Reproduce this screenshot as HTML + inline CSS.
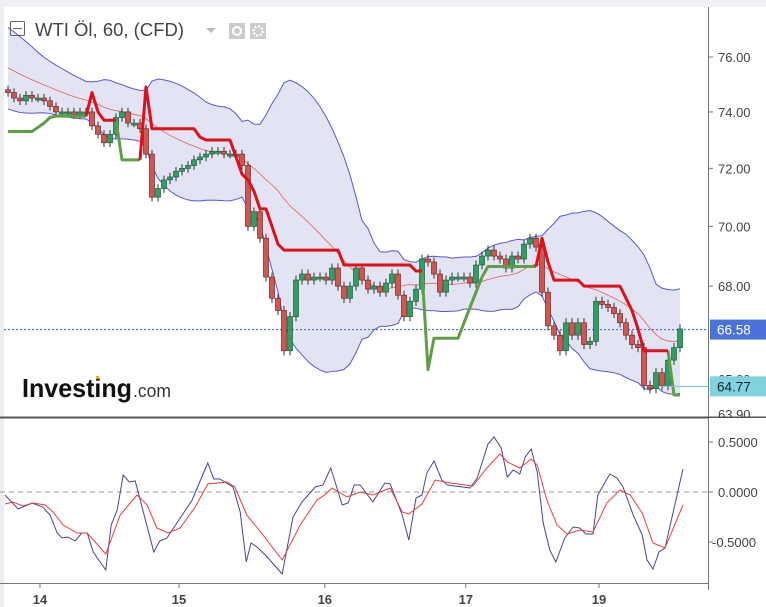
<!DOCTYPE html>
<html><head><meta charset="utf-8"><style>
body{margin:0;background:#fff;}
svg{display:block;font-family:"Liberation Sans",sans-serif;}
</style></head><body>
<svg id="c" width="766" height="607" viewBox="0 0 766 607" xmlns="http://www.w3.org/2000/svg">
<rect x="0" y="0" width="766" height="607" fill="#fff"/>
<g id="main"></g>
<g id="osc"></g>
</svg>
<script>
const closes=[74.7,74.5,74.4,74.6,74.5,74.5,74.4,74.2,74.0,74.0,74.0,73.9,74.0,74.0,73.5,73.2,72.9,73.2,73.8,74.0,73.6,73.6,73.4,72.5,71.0,71.3,71.6,71.7,71.9,72.0,72.1,72.3,72.4,72.5,72.6,72.6,72.5,72.5,72.5,72.1,70.0,70.5,69.6,68.3,67.6,67.2,65.9,67.0,68.2,68.4,68.2,68.3,68.3,68.2,68.6,68.0,67.6,68.0,68.6,68.2,67.9,68.0,67.8,68.1,68.4,67.7,67.0,67.5,67.9,68.9,68.8,68.4,67.8,68.2,68.3,68.3,68.3,68.1,68.7,69.0,69.2,69.0,68.9,68.6,69.0,68.9,69.4,69.6,69.3,67.8,66.7,66.4,65.9,66.8,66.4,66.8,66.1,66.2,67.5,67.4,67.3,67.1,66.8,66.4,66.1,66.0,64.8,64.7,65.2,64.8,65.6,66.0,66.6];
const history=[77.0,76.9,76.8,76.6,76.5,76.4,76.2,76.0,75.9,75.7,75.6,75.5,75.3,75.2,75.0,74.9,74.8,74.7,74.8,74.6];
const redSegs=[[13,[73.85,74.7,74.0,73.7,73.7,73.7]],[22,[72.3,74.9,73.4,73.4,73.4,73.4,73.4,73.4,73.4,73.4,73.1,73.0,73.0,73.0,73.0,73.0,72.4,71.8,71.6,71.2,70.6,70.6,70.0,69.4,69.2,69.2,69.2,69.2,69.2,69.2,69.2,69.2,69.2,69.2,68.7,68.7,68.7,68.7,68.7,68.7,68.7,68.7,68.7,68.7,68.7,68.7,68.5,68.5]],[88,[68.65,69.6,68.8,68.2,68.2,68.2,68.2,68.2,68.0,68.0,68.0,68.0,68.0,68.0,68.0,67.6,67.2,66.6,65.9,65.9,65.9,65.9,65.9]]];
const greenSegs=[[0,[73.3,73.3,73.3,73.3,73.3,73.45,73.6,73.8,73.85,73.85,73.85,73.85,73.85,73.85]],[18,[73.7,72.3,72.3,72.3,72.3]],[69,[68.5,65.3,66.3,66.3,66.3,66.3,66.3,66.8,67.3,67.8,68.3,68.65,68.65,68.65,68.65,68.65,68.65,68.65,68.65,68.65]],[110,[65.9,64.5,64.5]]];
const priceTicks=[76,74,72,70,68];
const lastPrice=66.58;
const stopPrice=64.77;
const oscIdx=[-0.5,1.7,4,5.8,7,8.2,9,10,11.2,12.3,13.2,14.2,16.3,17.2,18.2,19.2,20.2,21.2,24.3,25.3,26.5,28.7,30.7,32.3,33.3,34.3,35.3,37.5,38.7,39.7,40.5,41.5,43.2,45.7,47.5,49,51.2,52.5,53.8,55.7,56.7,57.7,58.7,60.8,62.8,63.7,65.7,66.8,68,69,69.8,71,72.3,73.2,77,78.2,80,81,82.2,83.2,84.2,85.3,86.2,87.2,88.2,89.2,90.3,91.3,92.8,94.2,95.3,96.3,97.5,98.3,100.3,101.5,102.5,104.2,105.7,106.5,107.5,108.5,109.5,112.5];
const oscVal=[-0.03,-0.17,-0.11,-0.15,-0.23,-0.41,-0.46,-0.45,-0.49,-0.41,-0.41,-0.60,-0.78,-0.33,-0.18,0.17,0.10,0.11,-0.60,-0.49,-0.46,-0.26,-0.08,0.15,0.29,0.13,0.13,0.05,-0.20,-0.70,-0.51,-0.55,-0.65,-0.82,-0.25,-0.10,0.05,0.07,0.24,-0.13,-0.11,0.07,0.07,-0.10,0.09,0.08,-0.23,-0.48,-0.06,-0.03,0.19,0.31,0.12,0.07,0.04,0.14,0.48,0.55,0.44,0.15,0.22,0.18,0.35,0.43,0.20,-0.31,-0.58,-0.70,-0.46,-0.35,-0.36,-0.42,-0.42,-0.03,0.18,0.14,0.05,-0.23,-0.43,-0.68,-0.77,-0.60,-0.56,0.23];
const sigIdx=[-0.5,0.8,2.5,4.2,6.2,7.5,9.2,11.5,13.2,16.3,18.7,21.5,23.2,24.8,26.7,28.7,31.2,33.3,36.5,37.8,39.8,42.5,45.7,48.7,51.5,52.8,54,56.5,58.7,60.8,63.7,65.7,66.8,69,71.2,73.7,77.5,79.8,82,83.2,85.3,87.2,88.2,89.8,91.5,93.2,95.3,97.5,99.8,102,103.7,105.7,107.5,109.5,112.5];
const sigVal=[-0.12,-0.10,-0.14,-0.11,-0.13,-0.20,-0.33,-0.41,-0.41,-0.62,-0.23,-0.03,-0.13,-0.36,-0.41,-0.36,-0.15,0.08,0.10,0.05,-0.23,-0.43,-0.68,-0.33,-0.08,-0.03,0.04,-0.05,0.00,-0.03,0.04,-0.20,-0.22,-0.12,0.12,0.09,0.06,0.24,0.38,0.30,0.24,0.33,0.27,-0.08,-0.33,-0.42,-0.38,-0.40,-0.11,0.02,-0.03,-0.21,-0.51,-0.56,-0.13];
const oscTicks=[0.5,0,-0.5];
const dayLabels=["14","15","16","17","19"];
const dayIdx=[5.33,28.5,52.8,76.3,98.5];

const NS="http://www.w3.org/2000/svg";
const xs=i=>8+6*i;
const yp=p=>57+2060*Math.log(76/p);
const yo=v=>492-100*v;
function mk(parent,tag,attrs,text){const e=document.createElementNS(NS,tag);for(const k in attrs)e.setAttribute(k,attrs[k]);if(text!==undefined)e.textContent=text;parent.appendChild(e);return e;}
const main=document.getElementById('main'),osc=document.getElementById('osc');
const clip=mk(document.getElementById('c'),'clipPath',{id:'pc'});mk(clip,'rect',{x:0,y:8,width:708,height:409});
const pg=mk(main,'g',{'clip-path':'url(#pc)'});

const all=history.concat(closes);const up=[],lo=[],mid=[];
for(let i=0;i<closes.length;i++){const w=all.slice(i+1,i+21);const m=w.reduce((a,b)=>a+b,0)/20;const sd=Math.sqrt(w.reduce((a,b)=>a+(b-m)*(b-m),0)/20);mid.push(m);up.push(m+2*sd);lo.push(m-2*sd);}
let fillD='M'+up.map((v,i)=>xs(i)+','+yp(v)).join(' L')+' L'+lo.map((v,i)=>xs(i)+','+yp(v)).reverse().join(' L')+' Z';
let f=mk(pg,'path',{d:fillD,fill:'#e3e4f3'});


const pl=(arr)=>arr.map((v,i)=>(i?'L':'M')+xs(i)+','+yp(v)).join(' ');
let bu=mk(pg,'path',{d:pl(up),fill:'none',stroke:'#5757d8','stroke-width':1});


let bl=mk(pg,'path',{d:pl(lo),fill:'none',stroke:'#5757d8','stroke-width':1});


let bm=mk(pg,'path',{d:pl(mid),fill:'none',stroke:'#e8605a','stroke-width':0.8});



let lp=mk(pg,'line',{x1:0,x2:708,y1:yp(lastPrice),y2:yp(lastPrice),stroke:'#2f5fe0','stroke-width':1,'stroke-dasharray':'2,2'});



for(let i=0;i<closes.length;i++){const o=i?closes[i-1]:closes[0]+0.1;const c=closes[i];const hi=Math.max(o,c)+0.15,lw=Math.min(o,c)-0.15;const upc=c>=o;
 const g=mk(pg,'g',{});
 
 
 mk(g,'line',{x1:xs(i),x2:xs(i),y1:yp(hi),y2:yp(lw),stroke:'#333','stroke-width':1});
 const yt=Math.min(yp(o),yp(c)),h=Math.max(2,Math.abs(yp(o)-yp(c)));
 mk(g,'rect',{x:xs(i)-2.5,y:yt,width:5,height:h,fill:upc?'#2f9e62':'#d45550',stroke:upc?'#1e5e3a':'#6e2a28','stroke-width':0.7});}

function segs(list,color,name){list.forEach(s=>{const d=s[1].map((v,k)=>(k?'L':'M')+xs(s[0]+k)+','+yp(v)).join(' ');const p=mk(pg,'path',{d:d,fill:'none',stroke:color,'stroke-width':3,'stroke-linejoin':'round'});
 
 });}
segs(greenSegs,'#5f9e45','stop-line-green');
segs(redSegs,'#e0101a','stop-line-red');
let sl=mk(pg,'line',{x1:660,x2:708,y1:yp(stopPrice),y2:yp(stopPrice),stroke:'#6cc6d3','stroke-width':1});



let tb=mk(main,'rect',{x:10.5,y:21.5,width:14,height:14,fill:'none',stroke:'#666','stroke-width':1,rx:1});


mk(main,'line',{x1:13,x2:22,y1:28.5,y2:28.5,stroke:'#666'});
let tt=mk(main,'text',{x:35,y:36,'font-size':18.5,fill:'#444'},'WTI Öl, 60, (CFD)');


mk(main,'path',{d:'M206,28 L216,28 L211,33 Z',fill:'#bbb'});
let ey=mk(main,'rect',{x:229,y:23,width:16,height:16,fill:'#ccc'});


mk(main,'circle',{cx:237,cy:31,r:4,fill:'none',stroke:'#fff','stroke-width':2});
let gr=mk(main,'rect',{x:250,y:23,width:16,height:16,fill:'#ccc'});


mk(main,'circle',{cx:258,cy:31,r:4.5,fill:'none',stroke:'#fff','stroke-width':2.5,'stroke-dasharray':'2,1.5'});

let lg=mk(main,'text',{x:22,y:397,'font-size':26,'font-weight':'bold',fill:'#111',textLength:110,lengthAdjust:'spacingAndGlyphs'},'Investing');


mk(main,'text',{x:133,y:397,'font-size':18,fill:'#333',textLength:38,lengthAdjust:'spacingAndGlyphs'},'.com');
mk(main,'rect',{x:96,y:376,width:3,height:3,fill:'#f4a30c'});

mk(main,'rect',{x:0,y:0,width:766,height:7,fill:'#eef0f4'});
mk(main,'rect',{x:0,y:0,width:4,height:607,fill:'#eceef2'});
mk(main,'line',{x1:708.5,x2:708.5,y1:7,y2:590,stroke:'#777','stroke-width':1});
mk(main,'line',{x1:0,x2:766,y1:417.5,y2:417.5,stroke:'#555','stroke-width':2});
priceTicks.forEach(p=>{mk(main,'line',{x1:708,x2:713,y1:yp(p),y2:yp(p),stroke:'#777'});
 const t=mk(main,'text',{x:718,y:yp(p)+5,'font-size':13,fill:'#444'},p.toFixed(2));
 
 });
mk(main,'text',{x:718,y:yp(65)+5,'font-size':13,fill:'#444'},'65.00');
mk(main,'text',{x:718,y:yp(63.9)+5,'font-size':13,fill:'#444'},'63.90');
let b1=mk(main,'rect',{x:710,y:yp(lastPrice)-10,width:56,height:20,fill:'#4a72d8'});


mk(main,'text',{x:717,y:yp(lastPrice)+5,'font-size':13.5,fill:'#fff'},lastPrice.toFixed(2));
let b2=mk(main,'rect',{x:710,y:yp(stopPrice)-10,width:56,height:20,fill:'#7fd2de'});


mk(main,'text',{x:717,y:yp(stopPrice)+5,'font-size':13.5,fill:'#222'},stopPrice.toFixed(2));
mk(main,'rect',{x:709,y:418,width:57,height:4,fill:'#fff'});

mk(osc,'line',{x1:0,x2:708,y1:yo(0),y2:yo(0),stroke:'#999','stroke-width':1,'stroke-dasharray':'5,4'});
const op=(ix,vs)=>ix.map((t,k)=>(k?'L':'M')+xs(t)+','+yo(vs[k])).join(' ');
let ob=mk(osc,'path',{d:op(oscIdx,oscVal),fill:'none',stroke:'#45479a','stroke-width':1});


let os=mk(osc,'path',{d:op(sigIdx,sigVal),fill:'none',stroke:'#ef3b3b','stroke-width':1});


oscTicks.forEach(v=>{mk(osc,'line',{x1:708,x2:713,y1:yo(v),y2:yo(v),stroke:'#777'});
 const t=mk(osc,'text',{x:v<0?712:718,y:yo(v)+5,'font-size':13,fill:'#444'},v.toFixed(4));
 
 });
mk(osc,'line',{x1:0,x2:709,y1:583.5,y2:583.5,stroke:'#777','stroke-width':1});
dayLabels.forEach((d,k)=>{const x=xs(dayIdx[k]);mk(osc,'line',{x1:x,x2:x,y1:583,y2:588,stroke:'#777'});
 const t=mk(osc,'text',{x:x,y:604,'font-size':13,'font-weight':'bold',fill:'#444','text-anchor':'middle'},d);
 
 });
</script>
</body></html>
